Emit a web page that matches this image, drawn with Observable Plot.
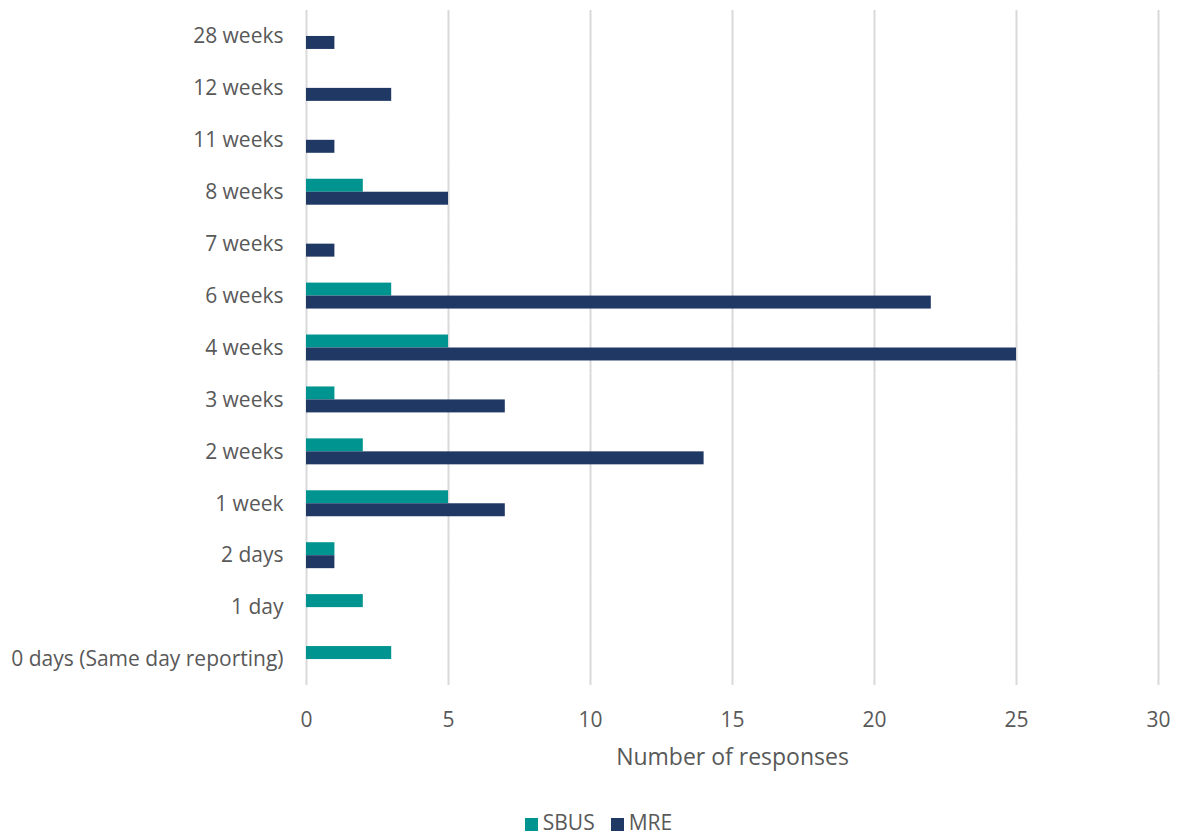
<!DOCTYPE html>
<html>
<head>
<meta charset="utf-8">
<script src="https://cdn.jsdelivr.net/npm/d3@7"></script>
<script src="https://cdn.jsdelivr.net/npm/@observablehq/plot@0.6"></script>
<style>
  html, body { margin: 0; padding: 0; background: #fff; }
  body { width: 1187px; height: 836px; overflow: hidden; font-family: "Open Sans", sans-serif; color: #595959; }
  #chart svg { display: block; }
  #legend { display: flex; justify-content: center; gap: 16px; font-size: 21px; line-height: 26px; margin-top: 29px; padding-left: 10px; }
  #legend .item { display: flex; align-items: center; gap: 5px; }
  #legend .sw { width: 13px; height: 13px; display: inline-block; margin-top: 5px; }
</style>
</head>
<body>
<div id="chart"></div>
<div id="legend"></div>
<script>
const categories = ["28 weeks", "12 weeks", "11 weeks", "8 weeks", "7 weeks", "6 weeks", "4 weeks", "3 weeks", "2 weeks", "1 week", "2 days", "1 day", "0 days (Same day reporting)"];
const sbusValues = [0, 0, 0, 2, 0, 3, 5, 1, 2, 5, 1, 2, 3];
const mreValues = [1, 3, 1, 5, 1, 22, 25, 7, 14, 7, 1, 0, 0];
const seriesNames = ["SBUS", "MRE"];
const seriesColors = ["#009490", "#1F3864"];
const xTicks = [0, 5, 10, 15, 20, 25, 30];
const xLabel = "Number of responses";

const data = categories.flatMap((c, i) => [
  {category: c, series: "SBUS", value: sbusValues[i]},
  {category: c, series: "MRE", value: mreValues[i]}
]);

const chart = Plot.plot({
  width: 1187,
  height: 780,
  marginLeft: 306,
  marginRight: 29,
  marginTop: 10,
  marginBottom: 95,
  style: {fontFamily: "'Open Sans', sans-serif", color: "#595959", background: "#fff"},
  x: {domain: [0, 30], ticks: xTicks},
  y: {domain: seriesNames, axis: null, paddingInner: 0, paddingOuter: 1, round: false},
  fy: {domain: categories, paddingInner: 0, paddingOuter: 0, round: false},
  color: {domain: seriesNames, range: seriesColors},
  marks: [
    Plot.gridX({ticks: xTicks, stroke: "#d9d9d9", strokeOpacity: 1, strokeWidth: 2}),
    Plot.barX(data, {fy: "category", y: "series", x: "value", fill: "series"}),
    Plot.axisX({ticks: xTicks, tickSize: 0, tickPadding: 27, fontSize: 21, fill: "#595959", label: null}),
    Plot.axisX({ticks: xTicks, tickSize: 0, tickFormat: () => "", fontSize: 23, fill: "#595959",
      label: xLabel, labelAnchor: "center", labelOffset: 79, labelArrow: "none"}),
    Plot.axisFy({anchor: "left", tickSize: 0, tickPadding: 23, fontSize: 21, fill: "#595959", label: null})
  ]
});
document.getElementById("chart").appendChild(chart);

const legend = document.getElementById("legend");
seriesNames.forEach((name, i) => {
  const item = document.createElement("span");
  item.className = "item";
  const sw = document.createElement("span");
  sw.className = "sw";
  sw.style.background = seriesColors[i];
  item.appendChild(sw);
  item.appendChild(document.createTextNode(name));
  legend.appendChild(item);
});
</script>
</body>
</html>
